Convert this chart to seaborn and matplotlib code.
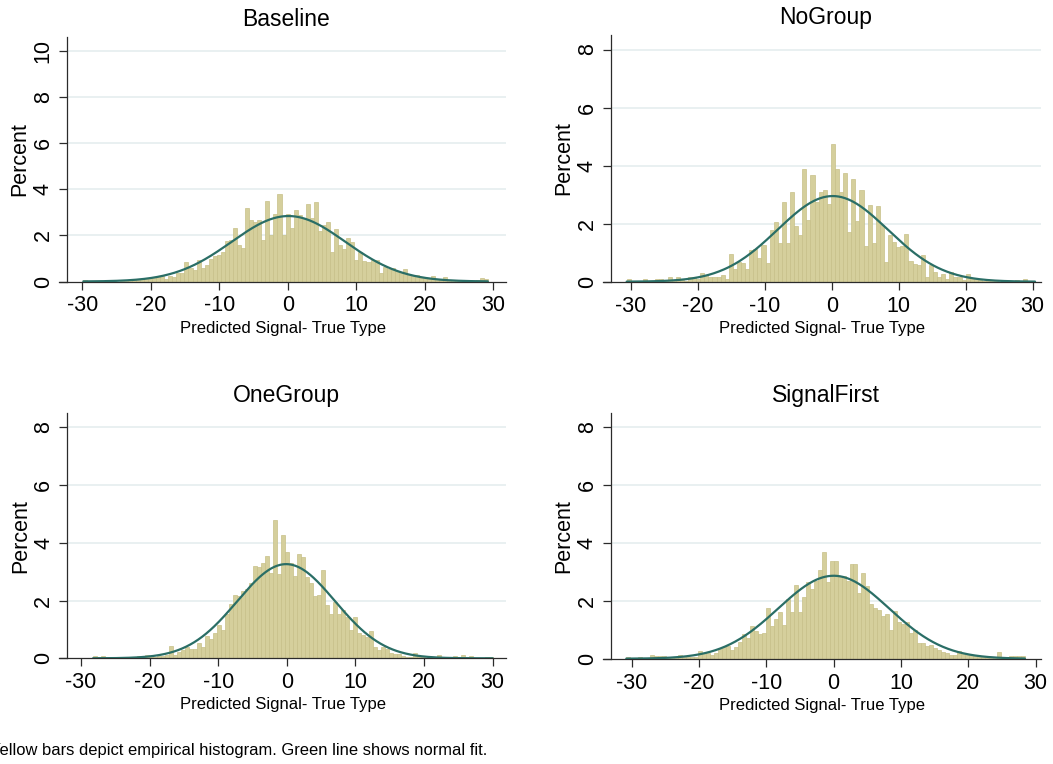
import numpy as np
import pandas as pd
import matplotlib
matplotlib.use("Agg")
import matplotlib.pyplot as plt
import seaborn as sns

# ---------------------------------------------------------------------------
# Data: percent of observations per bin (100 equal-width bins per panel,
# spanning the observed range of "Predicted Signal - True Type").
# ---------------------------------------------------------------------------
titles = ["Baseline", "NoGroup", "OneGroup", "SignalFirst"]

bin_start = [-29.85, -30.60, -28.25, -30.80]
bin_end = [29.20, 30.35, 30.00, 28.40]

baseline_pct = [
    0.06, 0.00, 0.00, 0.00, 0.00, 0.00, 0.00, 0.03, 0.00, 0.03,
    0.03, 0.05, 0.05, 0.08, 0.12, 0.12, 0.10, 0.20, 0.25, 0.25,
    0.12, 0.22, 0.20, 0.35, 0.38, 0.84, 0.60, 0.50, 0.93, 0.60,
    0.70, 0.97, 1.10, 1.15, 1.30, 1.75, 1.80, 2.30, 1.60, 1.45,
    3.20, 2.67, 2.60, 2.67, 1.80, 3.50, 2.00, 2.93, 3.80, 2.00,
    2.93, 2.30, 3.10, 2.90, 2.70, 3.36, 2.74, 3.45, 2.20, 2.45,
    2.56, 1.30, 2.26, 1.60, 1.40, 1.90, 1.70, 0.95, 1.30, 0.90,
    0.85, 0.95, 0.95, 0.35, 0.65, 0.55, 0.60, 0.45, 0.35, 0.55,
    0.30, 0.25, 0.30, 0.15, 0.15, 0.12, 0.25, 0.10, 0.10, 0.20,
    0.08, 0.06, 0.05, 0.08, 0.05, 0.05, 0.04, 0.06, 0.15, 0.10,
]

nogroup_pct = [
    0.08, 0.04, 0.00, 0.00, 0.11, 0.00, 0.03, 0.11, 0.08, 0.03,
    0.15, 0.06, 0.15, 0.06, 0.03, 0.15, 0.15, 0.08, 0.29, 0.23,
    0.17, 0.17, 0.17, 0.22, 0.11, 0.94, 0.43, 0.68, 0.66, 0.43,
    1.10, 1.11, 0.83, 1.25, 0.63, 1.78, 2.06, 1.32, 2.75, 1.32,
    3.10, 1.92, 1.60, 3.90, 2.13, 3.68, 2.76, 3.10, 3.16, 2.68,
    4.74, 3.90, 3.10, 3.74, 1.72, 3.53, 2.10, 3.16, 1.23, 2.64,
    1.34, 2.60, 1.95, 0.68, 1.60, 1.38, 1.20, 1.23, 1.64, 0.72,
    0.60, 0.57, 0.92, 0.15, 0.57, 0.34, 0.15, 0.26, 0.08, 0.34,
    0.17, 0.17, 0.06, 0.25, 0.11, 0.11, 0.06, 0.04, 0.04, 0.02,
    0.03, 0.00, 0.03, 0.00, 0.00, 0.06, 0.03, 0.08, 0.03, 0.04,
]

onegroup_pct = [
    0.08, 0.03, 0.08, 0.02, 0.00, 0.03, 0.00, 0.00, 0.03, 0.03,
    0.00, 0.08, 0.08, 0.12, 0.06, 0.06, 0.08, 0.08, 0.10, 0.43,
    0.12, 0.23, 0.29, 0.40, 0.32, 0.32, 0.52, 0.40, 0.77, 0.66,
    0.89, 1.15, 0.98, 1.52, 1.88, 2.19, 2.16, 2.34, 2.39, 2.60,
    3.19, 3.15, 3.31, 3.54, 2.94, 4.78, 2.92, 4.27, 3.67, 3.30,
    2.85, 3.61, 3.49, 2.80, 2.60, 2.16, 2.19, 3.05, 1.84, 1.53,
    1.95, 1.53, 1.67, 1.42, 0.98, 1.42, 0.86, 0.80, 0.73, 0.95,
    0.40, 0.29, 0.40, 0.31, 0.17, 0.15, 0.15, 0.08, 0.06, 0.06,
    0.20, 0.06, 0.03, 0.00, 0.00, 0.00, 0.12, 0.06, 0.00, 0.00,
    0.08, 0.06, 0.12, 0.06, 0.08, 0.00, 0.00, 0.00, 0.04, 0.04,
]

signalfirst_pct = [
    0.05, 0.00, 0.03, 0.05, 0.00, 0.03, 0.13, 0.09, 0.09, 0.09,
    0.03, 0.03, 0.05, 0.13, 0.07, 0.07, 0.05, 0.05, 0.27, 0.21,
    0.21, 0.12, 0.18, 0.35, 0.39, 0.44, 0.30, 0.42, 0.59, 0.84,
    0.73, 1.13, 0.96, 0.84, 0.90, 1.75, 1.13, 1.38, 1.63, 1.15,
    2.07, 1.60, 2.55, 1.60, 2.13, 2.64, 2.40, 2.70, 3.08, 3.68,
    2.64, 3.39, 3.39, 2.87, 2.85, 2.70, 3.28, 3.28, 2.27, 2.96,
    2.50, 1.90, 1.75, 1.70, 1.47, 1.55, 1.00, 1.65, 1.28, 1.20,
    1.28, 0.90, 1.00, 0.53, 0.53, 0.44, 0.47, 0.36, 0.30, 0.24,
    0.18, 0.13, 0.13, 0.27, 0.20, 0.12, 0.13, 0.08, 0.05, 0.05,
    0.03, 0.03, 0.05, 0.22, 0.03, 0.03, 0.09, 0.09, 0.09, 0.08,
]

series_pct = [baseline_pct, nogroup_pct, onegroup_pct, signalfirst_pct]

# Normal fit parameters (mean, standard deviation) for each panel
fit_mean = [0.10, 0.15, -0.10, 0.00]
fit_sd = [8.30, 8.24, 7.13, 8.23]

y_ticks = [[0, 2, 4, 6, 8, 10], [0, 2, 4, 6, 8], [0, 2, 4, 6, 8], [0, 2, 4, 6, 8]]
y_top = [10.6, 8.5, 8.49, 8.5]
x_ticks = [-30, -20, -10, 0, 10, 20, 30]

x_label = "Predicted Signal- True Type"
y_label = "Percent"
note = "Yellow bars depict empirical histogram. Green line shows normal fit."

# ---------------------------------------------------------------------------
# Styling / layout
# ---------------------------------------------------------------------------
W, H, DPI = 1053, 764, 100
sns.set_theme(style="white")
plt.rcParams["font.family"] = ["Liberation Sans", "DejaVu Sans"]

bar_fill = "#D5CF9C"
bar_edge = "#C7C088"
fit_color = "#2A6E66"
grid_color = "#E5EDEF"
axis_color = "#2B2B2B"

# pixel geometry of each panel: y-axis line x, top, right end, zero line y
panels_px = [
    (67.0, 37.0, 506.0, 281.5),
    (611.0, 35.0, 1041.0, 281.7),
    (67.3, 413.0, 506.0, 658.3),
    (611.0, 413.0, 1041.0, 658.7),
]
# data x at the y-axis line and at the right end of each panel
x_left = [-32.23, -32.94, -32.0, -33.07]
x_right = [31.85, 31.24, 31.94, 30.79]
overhang_px = 8.0  # the x axis line starts a little left of the y axis

fig = plt.figure(figsize=(W / DPI, H / DPI), dpi=DPI)
fig.patch.set_facecolor("white")

for idx in range(4):
    axis_x, t, r, b = panels_px[idx]
    l = axis_x - overhang_px
    ax = fig.add_axes([l / W, 1 - b / H, (r - l) / W, (b - t) / H])
    ax.set_facecolor("white")

    px_per_unit = (r - axis_x) / (x_right[idx] - x_left[idx])
    x_min = x_left[idx] - overhang_px / px_per_unit

    n_bins = len(series_pct[idx])
    edges = np.linspace(bin_start[idx], bin_end[idx], n_bins + 1)
    centers = 0.5 * (edges[:-1] + edges[1:])
    width = float(edges[1] - edges[0])
    df = pd.DataFrame({"x": centers, "pct": series_pct[idx]})

    # light horizontal grid at the labelled values above zero
    for yv in y_ticks[idx][1:]:
        ax.plot([x_left[idx], x_right[idx]], [yv, yv], color=grid_color,
                lw=1.2, zorder=0, solid_capstyle="butt")

    sns.histplot(data=df, x="x", weights="pct", bins=[float(e) for e in edges],
                 ax=ax, color=bar_fill, edgecolor=bar_edge, linewidth=0.5,
                 alpha=1.0, zorder=2)

    xs = np.linspace(bin_start[idx], bin_end[idx], 400)
    mu, sd = fit_mean[idx], fit_sd[idx]
    dens = np.exp(-0.5 * ((xs - mu) / sd) ** 2) / (sd * np.sqrt(2 * np.pi))
    fit_df = pd.DataFrame({"x": xs, "y": 100 * width * dens})
    sns.lineplot(data=fit_df, x="x", y="y", ax=ax, color=fit_color,
                 linewidth=1.6, zorder=3)

    ax.set_xlim(x_min, x_right[idx])
    ax.set_ylim(0, y_top[idx])
    ax.set_xticks(x_ticks)
    ax.set_yticks(y_ticks[idx])
    ax.set_xticklabels([str(v) for v in x_ticks])
    ax.set_yticklabels([str(v) for v in y_ticks[idx]])

    for side in ["top", "right"]:
        ax.spines[side].set_visible(False)
    ax.spines["left"].set_position(("data", x_left[idx]))
    for side in ["left", "bottom"]:
        ax.spines[side].set_color(axis_color)
        ax.spines[side].set_linewidth(0.9)

    ax.tick_params(axis="both", which="both", direction="out", length=6,
                   width=0.9, color=axis_color, labelsize=15.5,
                   labelcolor="black", bottom=True, left=True)
    ax.tick_params(axis="x", pad=4)
    ax.tick_params(axis="y", pad=3.5, labelrotation=90)
    for lab in ax.get_yticklabels():
        lab.set_verticalalignment("center")

    ax.set_xlabel(x_label, fontsize=12, labelpad=3, color="black")
    ax.set_ylabel(y_label, fontsize=15.5, labelpad=1.5, color="black")
    ax.set_title(titles[idx], fontsize=16.5, pad=8, color="black",
                 x=((axis_x + r) / 2 - l) / (r - l))
    ax.grid(False)

fig.text(-10.5 / W, 1 - 750 / H, note, fontsize=11.9, ha="left",
         va="center", color="black")

fig.savefig("out.png", dpi=DPI, facecolor="white")
